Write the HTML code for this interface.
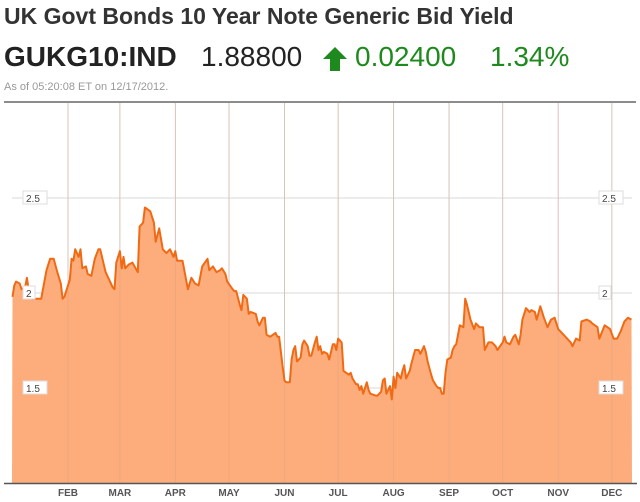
<!DOCTYPE html>
<html><head><meta charset="utf-8"><style>
body{margin:0;width:640px;height:502px;background:#fff;font-family:"Liberation Sans",Arial,sans-serif;overflow:hidden;position:relative}
.t{position:absolute;white-space:nowrap}
</style></head><body>
<div class="t" style="left:4px;top:3px;font-size:23px;font-weight:bold;color:#333">UK Govt Bonds 10 Year Note Generic Bid Yield</div>
<div class="t" style="left:4px;top:41px;font-size:28px;font-weight:bold;color:#222">GUKG10:IND</div>
<div class="t" style="left:201px;top:41px;font-size:28px;color:#222">1.88800</div>
<svg class="t" style="left:322px;top:46px" width="26" height="26" viewBox="0 0 26 26"><path d="M13 1 L25 13 L18 13 L18 25 L8 25 L8 13 L1 13 Z" fill="#1e8a1e"/></svg>
<div class="t" style="left:355px;top:41px;font-size:28px;color:#1e8a1e">0.02400</div>
<div class="t" style="left:490px;top:41px;font-size:28px;color:#1e8a1e">1.34%</div>
<div class="t" style="left:4px;top:81px;font-size:11px;color:#999">As of 05:20:08 ET on 12/17/2012.</div>
<svg id="chart" style="position:absolute;left:0;top:0" width="640" height="502"></svg>
<script>
const days=[0,1,2,4,5,7,8,9,10,11,14,16,19,21,23,25,27,28,29,32,33,34,35,37,38,39,41,42,44,46,48,49,52,53,56,57,58,60,61,62,63,65,67,70,71,73,74,77,79,80,82,84,86,88,90,91,92,95,98,100,102,104,106,109,110,112,114,116,117,119,120,123,124,125,127,128,129,131,132,133,136,137,138,140,141,142,144,147,148,149,151,152,153,155,156,157,158,159,161,162,163,165,166,167,169,170,171,172,173,174,176,177,179,180,181,182,184,185,188,189,190,192,193,194,195,196,198,199,200,203,204,206,207,208,209,211,212,213,214,215,217,218,219,220,222,223,225,227,228,230,231,232,234,235,237,238,239,240,241,242,243,245,246,247,248,250,252,253,254,256,258,259,261,263,264,266,268,270,271,274,275,276,278,280,281,283,284,285,287,289,290,292,293,295,297,299,301,303,305,308,310,312,313,315,317,318,321,323,324,327,328,331,334,336,338,340,342,344,346];
const yields=[1.98,2.04,2.06,2.05,2.02,2.03,2.08,2.02,1.98,1.97,1.97,1.97,2.12,2.18,2.18,2.11,2.05,1.97,1.98,2.07,2.18,2.17,2.23,2.19,2.23,2.13,2.14,2.10,2.09,2.18,2.23,2.23,2.11,2.09,2.03,2.02,2.16,2.22,2.13,2.19,2.13,2.15,2.16,2.11,2.35,2.37,2.45,2.43,2.37,2.27,2.34,2.23,2.21,2.23,2.19,2.22,2.17,2.17,2.02,2.08,2.05,2.04,2.14,2.18,2.12,2.14,2.11,2.12,2.13,2.10,2.06,2.02,2.01,2.01,1.94,1.91,1.99,1.97,1.89,1.90,1.89,1.85,1.83,1.87,1.87,1.78,1.77,1.79,1.77,1.77,1.61,1.54,1.53,1.53,1.65,1.70,1.72,1.64,1.66,1.73,1.75,1.72,1.67,1.67,1.74,1.77,1.70,1.72,1.68,1.69,1.68,1.65,1.73,1.73,1.70,1.76,1.74,1.59,1.57,1.58,1.55,1.52,1.52,1.49,1.51,1.47,1.53,1.49,1.47,1.46,1.46,1.48,1.54,1.55,1.47,1.51,1.44,1.56,1.50,1.58,1.55,1.59,1.62,1.55,1.59,1.63,1.70,1.70,1.68,1.72,1.69,1.64,1.57,1.54,1.51,1.50,1.50,1.47,1.47,1.58,1.65,1.66,1.70,1.72,1.73,1.83,1.82,1.97,1.94,1.86,1.81,1.84,1.82,1.82,1.70,1.74,1.74,1.72,1.70,1.74,1.77,1.74,1.73,1.77,1.78,1.73,1.78,1.86,1.92,1.90,1.91,1.90,1.86,1.93,1.87,1.82,1.86,1.87,1.81,1.78,1.76,1.74,1.72,1.76,1.75,1.85,1.86,1.85,1.84,1.82,1.76,1.83,1.81,1.76,1.76,1.80,1.85,1.87,1.86];
const monthLabels=["FEB","MAR","APR","MAY","JUN","JUL","AUG","SEP","OCT","NOV","DEC"];
const monthDays=[31,60,91,121,152,182,213,244,274,305,335];
const yTicks=[1.5,2,2.5];
const yTickLabels=["1.5","2","2.5"];

const NS="http://www.w3.org/2000/svg";
const svg=document.getElementById('chart');
const X0=12,X1=632,BASE=483;
const xScale=d=>68+(d-31)*1.789;
const yScale=v=>293-(v-2)*190;
function mk(tag,attrs,parent){const e=document.createElementNS(NS,tag);for(const k in attrs)e.setAttribute(k,attrs[k]);(parent||svg).appendChild(e);return e;}

const topBorder=mk('line',{x1:4,x2:636,y1:102,y2:102,stroke:'#666','stroke-width':1.5});



monthDays.forEach((d,i)=>{
  const x=xScale(d);
  const g=mk('line',{x1:x,x2:x,y1:103,y2:BASE,stroke:'#d8d8d8','stroke-width':1});
  
  
});
yTicks.forEach(v=>{
  const y=yScale(v);
  const g=mk('line',{x1:X0,x2:X1,y1:y,y2:y,stroke:'#d8d8d8','stroke-width':1});
  
  
});

const pts=days.map((d,i)=>xScale(d).toFixed(1)+','+yScale(yields[i]).toFixed(1));
const area=mk('path',{d:'M'+X0+','+BASE+' L'+pts.join(' L')+' L'+X1+','+BASE+' Z',fill:'#fdac7c'});


monthDays.forEach(d=>{
  const x=xScale(d);
  const g=mk('line',{x1:x,x2:x,y1:103,y2:BASE,stroke:'#d9a080','stroke-width':0.7,opacity:0.5});
  
  
});
const line=mk('polyline',{points:pts.join(' '),fill:'none',stroke:'#f06a14','stroke-width':2,'stroke-linejoin':'round'});



yTicks.forEach((v,i)=>{
  const y=yScale(v);
  [[23,'left'],[599,'right']].forEach(([x,side])=>{
    const w=yTickLabels[i].length*6+6;
    const r=mk('rect',{x:x,y:y-7,width:w,height:13,fill:'#fff',stroke:'#ddd','stroke-width':1});
    
    
    const t=mk('text',{x:x+3,y:y+4,'font-size':10,fill:'#444','font-family':'Liberation Sans, Arial, sans-serif'});
    t.textContent=yTickLabels[i];
    
    
  });
});

const ax=mk('line',{x1:4,x2:637,y1:BASE+0.5,y2:BASE+0.5,stroke:'#555','stroke-width':1.5});


monthDays.forEach((d,i)=>{
  const t=mk('text',{x:xScale(d),y:496,'font-size':10,'font-weight':'bold',fill:'#555','text-anchor':'middle','font-family':'Liberation Sans, Arial, sans-serif'});
  t.textContent=monthLabels[i];
  
  
});
</script>
</body></html>
